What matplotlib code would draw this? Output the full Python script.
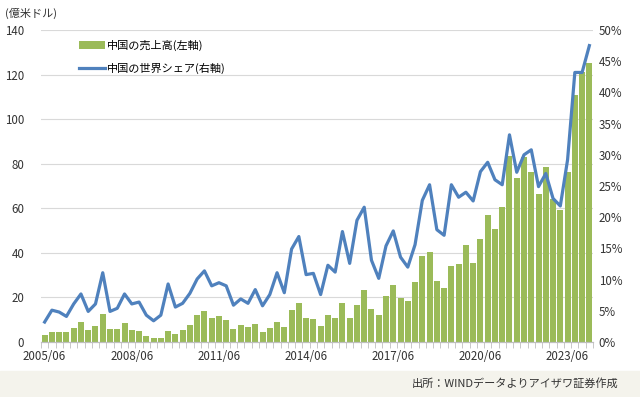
import numpy as np
import matplotlib.pyplot as plt

plt.rcParams['font.family'] = ['Noto Sans CJK JP', 'DejaVu Sans']

# 四半期 2005/06 - 2024/03
quarters = []
for y in range(2005, 2025):
    for m in (3, 6, 9, 12):
        if (y, m) >= (2005, 6) and (y, m) <= (2024, 3):
            quarters.append(f"{y}/{m:02d}")

# 中国の売上高 (億米ドル)
sales = [3.0, 4.4, 4.4, 4.4, 6.2, 8.9, 5.3, 7.1, 12.5, 5.7,
         5.7, 8.4, 5.3, 4.8, 2.6, 1.7, 1.7, 4.8, 3.5, 5.3,
         7.5, 12.0, 13.8, 10.7, 11.6, 9.8, 5.7, 7.5, 6.6, 8.0,
         4.4, 6.2, 8.9, 6.6, 14.3, 17.4, 10.7, 10.2, 7.1, 12.0,
         10.7, 17.4, 10.7, 16.5, 23.3, 14.7, 12.0, 20.6, 25.6, 19.7,
         18.3, 26.9, 38.6, 40.5, 27.4, 24.2, 34.1, 35.0, 43.6, 35.5,
         46.4, 56.8, 50.9, 60.4, 83.3, 73.8, 82.8, 76.5, 66.5, 78.7,
         64.3, 59.3, 76.5, 110.8, 121.1, 125.2]

# 中国の世界シェア (%)
share = [3.2, 5.1, 4.8, 4.1, 6.1, 7.7, 4.9, 6.1, 11.1, 4.9,
         5.4, 7.7, 6.1, 6.4, 4.3, 3.4, 4.3, 9.3, 5.6, 6.2,
         7.8, 10.1, 11.4, 9.0, 9.5, 9.0, 5.9, 6.9, 6.2, 8.4,
         5.8, 7.6, 11.1, 7.9, 14.9, 16.9, 10.8, 11.0, 7.6, 12.3,
         11.2, 17.7, 12.6, 19.5, 21.6, 13.1, 10.2, 15.4, 17.8, 13.6,
         12.0, 15.6, 22.7, 25.2, 18.0, 17.1, 25.2, 23.2, 24.0, 22.6,
         27.3, 28.8, 26.0, 25.2, 33.2, 27.2, 30.0, 30.8, 24.9, 27.0,
         23.0, 21.8, 29.2, 43.2, 43.2, 47.5]

x = np.arange(len(quarters))

fig = plt.figure(figsize=(6.4, 3.97), dpi=100)
fig.patches.append(plt.Rectangle((0, 0), 1, 26 / 397, transform=fig.transFigure,
                                 color='#f4f3ec', zorder=0))

ax = fig.add_axes([41 / 640, 1 - 342 / 397, 552 / 640, 312 / 397])
ax2 = ax.twinx()

ax.bar(x, sales, width=0.82, color='#9bbb59', label='中国の売上高(左軸)', zorder=2)
ax2.plot(x, share, color='#4f81bd', lw=2.3, label='中国の世界シェア(右軸)')

ax.set_ylim(0, 140)
ax.set_yticks(range(0, 141, 20))
ax2.set_ylim(0, 50)
ax2.set_yticks(range(0, 51, 5))
ax2.set_yticklabels([f"{v}%" for v in range(0, 51, 5)])
ax.set_xlim(-0.5, len(x) - 0.5)

ax.set_xticks(x[::12])
ax.set_xticklabels([quarters[i] for i in x[::12]])
ax.set_xticks(np.arange(-0.5, len(x), 1), minor=True)
ax.tick_params(axis='x', which='major', length=0, pad=6, labelsize=8.3, colors='#333333')
ax.tick_params(axis='x', which='minor', length=4, color='#bfbfbf')
ax.tick_params(axis='y', length=0, labelsize=8.3, colors='#333333', pad=12)
ax2.tick_params(axis='y', length=0, labelsize=8.3, colors='#333333', pad=4)

ax.grid(axis='y', color='#d9d9d9', lw=0.8, zorder=0)
ax.set_axisbelow(True)
for a in (ax, ax2):
    for s in ('top', 'left', 'right'):
        a.spines[s].set_visible(False)
    a.spines['bottom'].set_color('#bfbfbf')

h1, l1 = ax.get_legend_handles_labels()
h2, l2 = ax2.get_legend_handles_labels()
ax.legend(h1 + h2, l1 + l2, loc='upper left', bbox_to_anchor=(0.05, 1.0),
          frameon=False, fontsize=8, handlelength=2.4, handletextpad=0.15,
          labelspacing=1.05)

fig.text(5 / 640, 1 - 13 / 397, '(億米ドル)', fontsize=8, va='center', color='#333333')
fig.text(618 / 640, 1 - 383 / 397, '出所：WINDデータよりアイザワ証券作成', fontsize=8,
         ha='right', va='center', color='#333333')

fig.savefig('out.png', dpi=100)
